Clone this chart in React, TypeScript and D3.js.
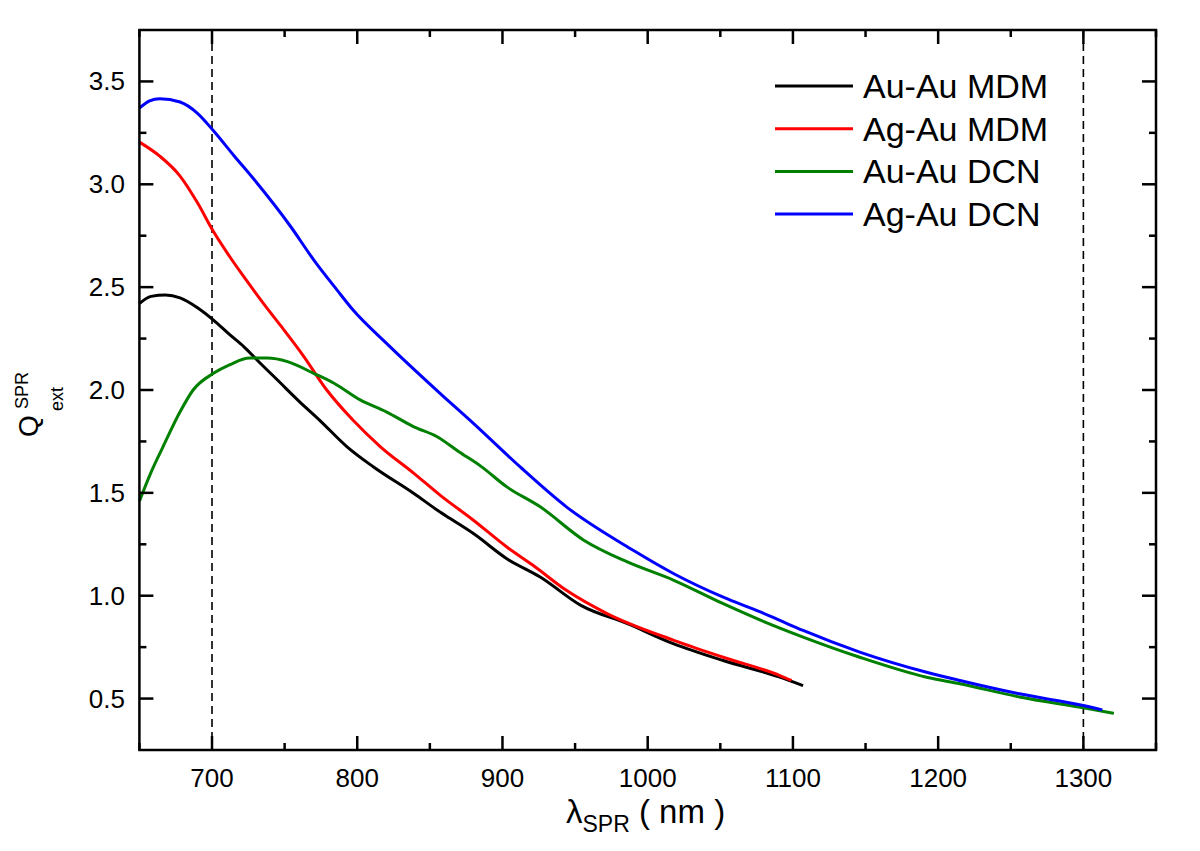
import React from "react";
import * as d3 from "d3";

// wavelengths (nm) and Q values
const auMdmX = [650, 658, 668, 678, 690, 701, 712, 722, 731, 747, 760, 774, 793, 811, 839, 857, 864, 880, 903, 926, 954, 986, 1018, 1052, 1091, 1107];
const auMdmY = [2.42, 2.455, 2.462, 2.448, 2.4, 2.34, 2.27, 2.21, 2.146, 2.035, 1.945, 1.854, 1.724, 1.627, 1.497, 1.407, 1.375, 1.302, 1.18, 1.091, 0.953, 0.864, 0.766, 0.685, 0.604, 0.563];

const agMdmX = [650, 664, 678, 690, 701, 712, 724, 736, 747, 763, 779, 797, 816, 839, 857, 880, 903, 921, 944, 972, 1018, 1052, 1091, 1099];
const agMdmY = [3.205, 3.137, 3.04, 2.91, 2.77, 2.65, 2.53, 2.415, 2.315, 2.165, 2.0, 1.854, 1.724, 1.595, 1.489, 1.367, 1.237, 1.148, 1.026, 0.913, 0.783, 0.701, 0.612, 0.588];

const auDcnX = [650, 658, 666, 678, 687, 701, 712, 726, 738, 752, 770, 784, 802, 820, 839, 855, 870, 885, 903, 926, 956, 986, 1018, 1052, 1078, 1107, 1146, 1192, 1215, 1256, 1300, 1321];
const auDcnY = [1.46, 1.6, 1.72, 1.894, 2.0, 2.081, 2.122, 2.155, 2.155, 2.138, 2.081, 2.033, 1.952, 1.894, 1.821, 1.773, 1.7, 1.63, 1.529, 1.432, 1.27, 1.164, 1.075, 0.961, 0.88, 0.799, 0.701, 0.604, 0.572, 0.508, 0.455, 0.428];

const agDcnX = [650, 657, 664, 678, 690, 701, 715, 729, 754, 770, 786, 797, 820, 857, 880, 912, 944, 990, 1018, 1052, 1078, 1091, 1107, 1146, 1192, 1215, 1256, 1300, 1313];
const agDcnY = [3.37, 3.405, 3.416, 3.4, 3.345, 3.26, 3.14, 3.023, 2.796, 2.633, 2.487, 2.39, 2.228, 1.984, 1.838, 1.627, 1.432, 1.221, 1.107, 0.993, 0.92, 0.88, 0.831, 0.726, 0.628, 0.588, 0.523, 0.466, 0.445];

const seriesNames = ["Au-Au MDM", "Ag-Au MDM", "Au-Au DCN", "Ag-Au DCN"];
const seriesColors = ["#000000", "#ff0000", "#008000", "#0000ff"];

const xTicks = [700, 800, 900, 1000, 1100, 1200, 1300];
const yTicks = [0.5, 1.0, 1.5, 2.0, 2.5, 3.0, 3.5];
const xMinor = [650, 750, 850, 950, 1050, 1150, 1250, 1350];
const yMinor = [0.75, 1.25, 1.75, 2.25, 2.75, 3.25];
const markerLines = [700, 1300];

const W = 1200;
const H = 851;
const left = 139.4, right = 1156, top = 30, bottom = 750;
const font = "Arial, 'Liberation Sans', Helvetica, sans-serif";

export default function App() {
  const x = d3.scaleLinear().domain([650, 1350]).range([left, right]);
  const y = d3.scaleLinear().domain([0.25, 3.75]).range([bottom, top]);

  const line = d3
    .line<[number, number]>()
    .x((d) => x(d[0]))
    .y((d) => y(d[1]))
    .curve(d3.curveMonotoneX);

  const series = [
    d3.zip(auMdmX, auMdmY),
    d3.zip(agMdmX, agMdmY),
    d3.zip(auDcnX, auDcnY),
    d3.zip(agDcnX, agDcnY),
  ] as [number, number][][];

  const major = 14;
  const minor = 7;
  const axisW = 2.5;

  return (
    <svg
      width={W}
      height={H}
      style={{ position: "absolute", left: 0, top: 0, background: "#fff" }}
      fontFamily={font}
    >
      <rect x={0} y={0} width={W} height={H} fill="#fff" />

      {markerLines.map((v) => (
        <line
          key={v}
          x1={x(v)}
          x2={x(v)}
          y1={top}
          y2={bottom}
          stroke="#000"
          strokeWidth={1.6}
          strokeDasharray="8,5"
        />
      ))}

      {series.map((s, i) => (
        <path key={i} d={line(s) ?? ""} fill="none" stroke={seriesColors[i]} strokeWidth={3} />
      ))}

      {/* frame */}
      <rect x={left} y={top} width={right - left} height={bottom - top} fill="none" stroke="#000" strokeWidth={axisW} />

      {/* x ticks bottom and top */}
      {xTicks.map((v) => (
        <g key={"xt" + v}>
          <line x1={x(v)} x2={x(v)} y1={bottom} y2={bottom - major} stroke="#000" strokeWidth={axisW} />
          <line x1={x(v)} x2={x(v)} y1={top} y2={top + major} stroke="#000" strokeWidth={axisW} />
          <text x={x(v)} y={787} fontSize={26} textAnchor="middle">
            {v}
          </text>
        </g>
      ))}
      {xMinor.map((v) => (
        <g key={"xm" + v}>
          <line x1={x(v)} x2={x(v)} y1={bottom} y2={bottom - minor} stroke="#000" strokeWidth={axisW} />
          <line x1={x(v)} x2={x(v)} y1={top} y2={top + minor} stroke="#000" strokeWidth={axisW} />
        </g>
      ))}

      {/* y ticks left and right */}
      {yTicks.map((v) => (
        <g key={"yt" + v}>
          <line x1={left} x2={left + major} y1={y(v)} y2={y(v)} stroke="#000" strokeWidth={axisW} />
          <line x1={right} x2={right - major} y1={y(v)} y2={y(v)} stroke="#000" strokeWidth={axisW} />
          <text x={125} y={y(v) + 9} fontSize={26} textAnchor="end">
            {v.toFixed(1)}
          </text>
        </g>
      ))}
      {yMinor.map((v) => (
        <g key={"ym" + v}>
          <line x1={left} x2={left + minor} y1={y(v)} y2={y(v)} stroke="#000" strokeWidth={axisW} />
          <line x1={right} x2={right - minor} y1={y(v)} y2={y(v)} stroke="#000" strokeWidth={axisW} />
        </g>
      ))}

      {/* legend */}
      {seriesNames.map((name, i) => {
        const ly = 86 + i * 42.7;
        return (
          <g key={name}>
            <line x1={775} x2={853} y1={ly} y2={ly} stroke={seriesColors[i]} strokeWidth={3} />
            <text x={863} y={ly + 12} fontSize={34}>
              {name}
            </text>
          </g>
        );
      })}

      {/* x axis title */}
      <text x={566} y={823} fontSize={33}>
        λ
        <tspan fontSize={23} dy={9}>
          SPR
        </tspan>
        <tspan dy={-9}> ( nm )</tspan>
      </text>

      {/* y axis title */}
      <g transform="rotate(-90)">
        <text x={-437} y={38} fontSize={28}>
          Q
        </text>
        <text x={-409} y={28} fontSize={18}>
          SPR
        </text>
        <text x={-411} y={63} fontSize={18}>
          ext
        </text>
      </g>
    </svg>
  );
}
